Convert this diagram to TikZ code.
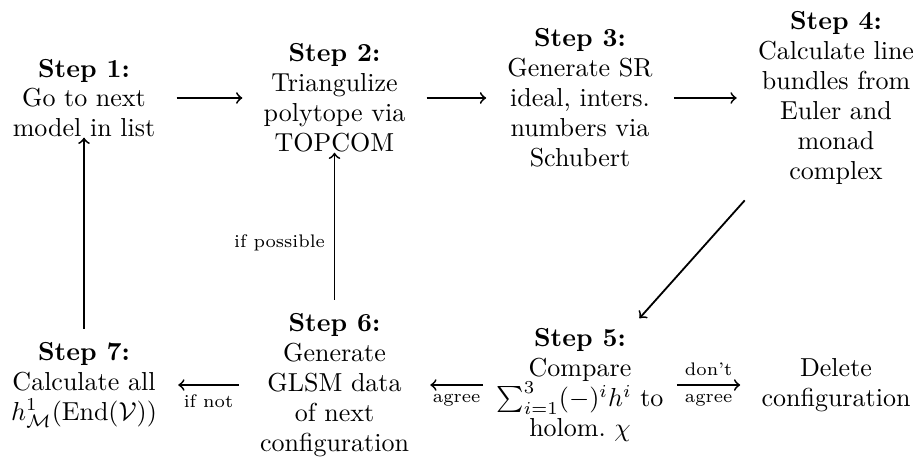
\documentclass[tikz,border=0pt]{standalone}
\usetikzlibrary{arrows}
\tikzset{
  stepnode/.style={align=center, inner xsep=8pt, inner ysep=0pt, font=\fontsize{10}{11.5}\selectfont},
  flow/.style={->, line width=0.7pt},
  lab/.style={font=\scriptsize}
}
\begin{document}
\begin{tikzpicture}[x=0.3846pt, y=-0.3846pt]
\useasboundingbox (0,0) rectangle (914,462);
\node[stepnode] (s1) at (84,98) {\textbf{Step 1:}\\Go to next\\model in list};
\node[stepnode] (s2) at (334.5,98) {\textbf{Step 2:}\\Triangulize\\polytope via\\TOPCOM};
\node[stepnode] (s3) at (580,98) {\textbf{Step 3:}\\Generate SR\\ideal, inters.\\numbers via\\Schubert};
\node[stepnode] (s4) at (836,98) {\textbf{Step 4:}\\Calculate line\\bundles from\\Euler and\\monad\\complex};
\node[stepnode, inner xsep=5pt] (s5) at (580,385) {\textbf{Step 5:}\\Compare\\$\sum_{i=1}^3(-)^ih^i$ to\\holom.\ $\chi$};
\node[stepnode] (s6) at (334.5,385) {\textbf{Step 6:}\\Generate\\GLSM data\\of next\\configuration};
\node[stepnode] (s7) at (84,385) {\textbf{Step 7:}\\Calculate all\\$h^1_{\mathcal{M}}(\mathrm{End}(\mathcal{V}))$};
\node[stepnode] (del) at (836,385) {Delete\\configuration};
\draw[flow] (s1) -- (s2);
\draw[flow] (s2) -- (s3);
\draw[flow] (s3) -- (s4);
\draw[flow, shorten <=8pt, shorten >=5pt] (s4) -- (s5);
\draw[flow] (s5) -- (s6) node[midway, below, lab] {agree};
\draw[flow] (s5) -- (del) node[midway, above, lab] {don’t} node[midway, below, lab] {agree};
\draw[flow] (s6) -- (s7) node[midway, below, lab] {if not};
\draw[flow, shorten <=5pt] (s6) -- (s2) node[pos=0.44, left, lab] {if possible};
\draw[flow, shorten <=5pt] (s7) -- (s1);
\end{tikzpicture}
\end{document}
